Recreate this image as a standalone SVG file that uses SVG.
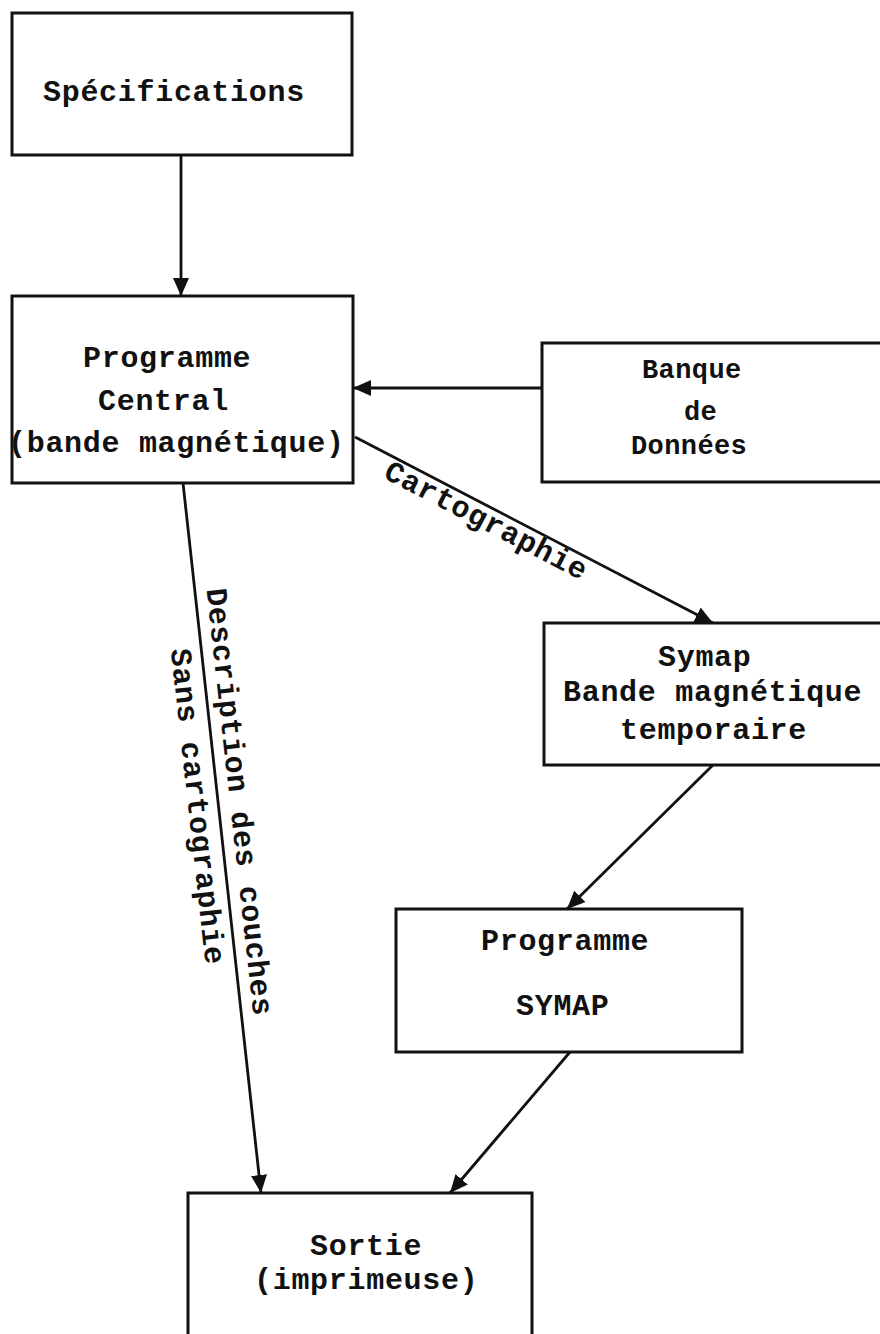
<svg xmlns="http://www.w3.org/2000/svg" width="880" height="1334" viewBox="0 0 880 1334">
<style>
.box{fill:none;stroke:#111;stroke-width:3}
.t{font-family:"Liberation Mono","Courier New",monospace;font-weight:bold;font-size:30px;letter-spacing:0.7px;fill:#111}
.ts{font-family:"Liberation Mono","Courier New",monospace;font-weight:bold;font-size:27px;letter-spacing:0.4px;fill:#111}
.c{fill:none;stroke:#111;stroke-width:2.8}
</style>
<defs>
<marker id="ah" markerUnits="userSpaceOnUse" markerWidth="20" markerHeight="18" refX="18" refY="8" orient="auto">
<path d="M0,0 L18,8 L0,16 z" fill="#111"/>
</marker>
</defs>
<rect width="880" height="1334" fill="#fff"/>
<g id="specifications">
<rect class="box" x="12" y="13" width="340" height="142"/>
<text class="t" x="43" y="101">Spécifications</text>
</g>
<g id="programme-central">
<rect class="box" x="12" y="296" width="341" height="187"/>
<text class="t" x="83" y="367">Programme</text>
<text class="t" x="98" y="410">Central</text>
<text class="t" x="8" y="452">(bande magnétique)</text>
</g>
<g id="banque">
<rect class="box" x="542" y="343" width="360" height="139"/>
<text class="ts" x="642" y="378">Banque</text>
<text class="ts" x="684" y="420">de</text>
<text class="ts" x="631" y="454">Données</text>
</g>
<g id="symap">
<rect class="box" x="544" y="623" width="360" height="142"/>
<text class="t" x="658" y="666">Symap</text>
<text class="t" x="563" y="701">Bande magnétique</text>
<text class="t" x="620" y="739">temporaire</text>
</g>
<g id="programme-symap">
<rect class="box" x="396" y="909" width="346" height="143"/>
<text class="t" x="481" y="950">Programme</text>
<text class="t" x="516" y="1015">SYMAP</text>
</g>
<g id="sortie">
<rect class="box" x="188" y="1193" width="344" height="200"/>
<text class="t" x="310" y="1255">Sortie</text>
<text class="t" x="254" y="1289">(imprimeuse)</text>
</g>
<g id="connectors">
<line class="c" x1="181" y1="155" x2="181" y2="296" marker-end="url(#ah)"/>
<line class="c" x1="542" y1="388" x2="353" y2="388" marker-end="url(#ah)"/>
<line class="c" x1="355" y1="437" x2="713" y2="623" marker-end="url(#ah)"/>
<line class="c" x1="183" y1="483" x2="261" y2="1193" marker-end="url(#ah)"/>
<line class="c" x1="713" y1="765" x2="567" y2="909" marker-end="url(#ah)"/>
<line class="c" x1="570" y1="1052" x2="450" y2="1193" marker-end="url(#ah)"/>
<text class="t" transform="translate(482,529) rotate(27.4)" text-anchor="middle">Cartographie</text>
<text class="t" transform="translate(230,803) rotate(83.7)" text-anchor="middle"><tspan x="0" y="0">Description des couches</tspan><tspan x="0" y="42">Sans cartographie</tspan></text>
</g>
</svg>
